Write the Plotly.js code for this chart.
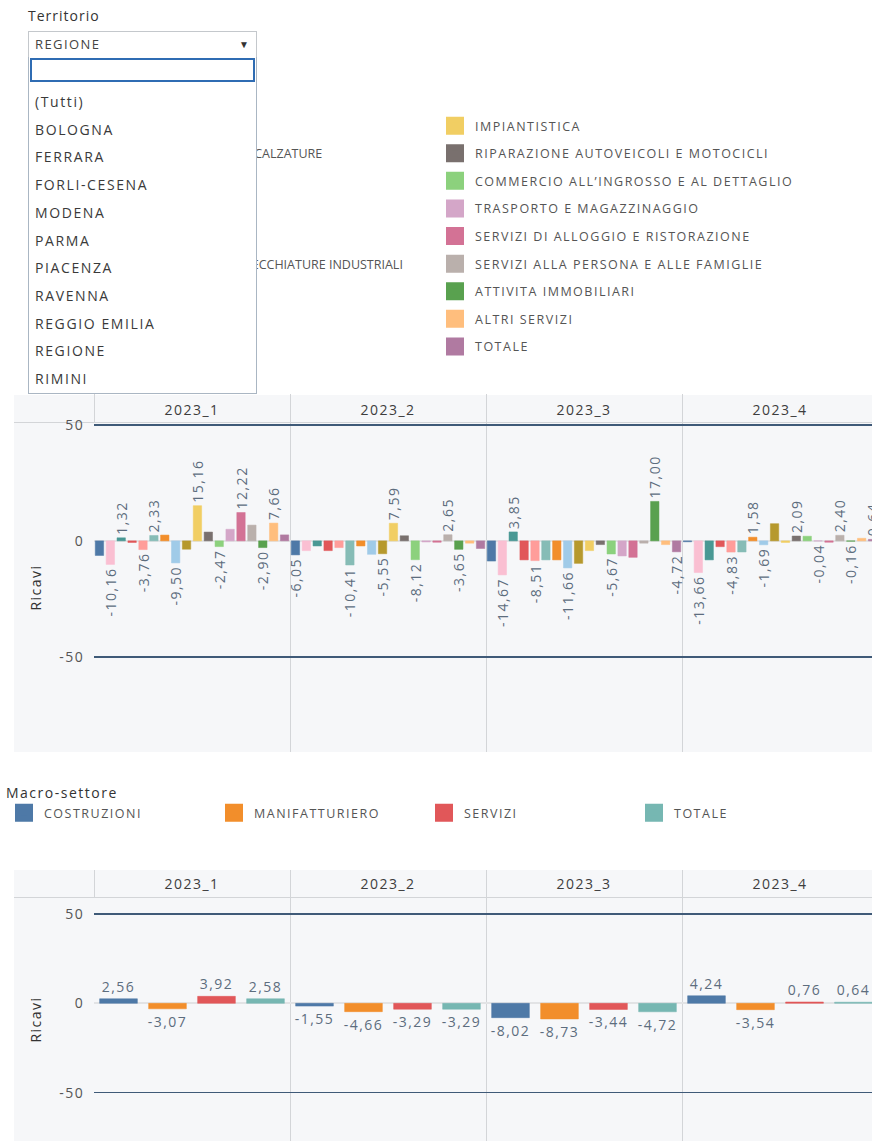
<!DOCTYPE html>
<html>
<head>
<meta charset="utf-8">
<script src="https://cdn.plot.ly/plotly-3.0.1.min.js"></script>
<style>
html,body{margin:0;padding:0;background:#fff;}
body{width:872px;height:1141px;overflow:hidden;position:relative;font-family:'Open Sans',sans-serif;}
svg text{letter-spacing:1.5px;}
svg text.legendtext{letter-spacing:0px;}
svg text.legendtitletext{letter-spacing:0.3px;}
.legendpoints path{stroke-width:6px !important;}
.sheet{position:absolute;left:14px;width:880px;background:#f6f7f9;}
.hline{position:absolute;left:14px;width:880px;height:1px;background:#d3d5d8;}
#chart{position:absolute;left:0;top:0;width:890px;height:1141px;}
#terLabel{position:absolute;left:28px;top:6px;font-size:14px;color:#333;letter-spacing:1px;z-index:10;}
#terBox{position:absolute;left:28px;top:31px;width:227px;height:25px;border:1px solid #c4c8cc;background:#fff;z-index:10;}
#terBox .val{position:absolute;left:6px;top:3px;font-size:13px;color:#444;letter-spacing:1.4px;}
#terBox .arr{position:absolute;right:7px;top:5px;font-size:10px;color:#333;}
#terList{position:absolute;left:28px;top:57px;width:227px;height:336px;border:1px solid #aab6c3;border-top:none;background:#fff;z-index:10;}
#terSearch{position:absolute;left:1px;top:1px;width:221px;height:20px;border:2px solid #2f6cb3;background:#fff;}
.item{position:absolute;left:6px;font-size:14px;color:#3a3a3a;letter-spacing:1.6px;height:27.7px;line-height:27.7px;white-space:nowrap;}
</style>
</head>
<body>
<div class="sheet" style="top:395px;height:357px;"></div>
<div class="hline" style="top:422px;"></div>
<div class="sheet" style="top:870px;height:271px;"></div>
<div class="hline" style="top:897px;"></div>
<div id="chart"></div>
<div id="terLabel">Territorio</div>
<div id="terBox"><span class="val">REGIONE</span><span class="arr">&#9660;</span></div>
<div id="terList"><div id="terSearch"></div></div>
<script>
// ---------- data ----------
const territori = ['(Tutti)','BOLOGNA','FERRARA','FORLI-CESENA','MODENA','PARMA','PIACENZA','RAVENNA','REGGIO EMILIA','REGIONE','RIMINI'];

const quarters = ['2023_1','2023_2','2023_3','2023_4'];

const sectors = [
  'ALIMENTARE',
  'TESSILE, ABBIGLIAMENTO E CALZATURE',
  'LEGNO E MOBILE',
  'CARTA E STAMPA',
  'PRODOTTI IN METALLO',
  'FABBR. MACCHINE E APPARECCHIATURE INDUSTRIALI',
  'ELETTRONICA',
  'ALTRE MANIFATTURIERE',
  'EDILIZIA',
  'IMPIANTISTICA',
  'RIPARAZIONE AUTOVEICOLI E MOTOCICLI',
  'COMMERCIO ALL\u2019INGROSSO E AL DETTAGLIO',
  'TRASPORTO E MAGAZZINAGGIO',
  'SERVIZI DI ALLOGGIO E RISTORAZIONE',
  'SERVIZI ALLA PERSONA E ALLE FAMIGLIE',
  'ATTIVITA IMMOBILIARI',
  'ALTRI SERVIZI',
  'TOTALE'
];
const sectorColors = ['#4E79A7','#FABFD2','#499894','#E15759','#FF9D9A','#86BCB6','#F28E2B','#A0CBE8','#B6992D',
                      '#F1CE63','#79706E','#8CD17D','#D4A6C8','#D37295','#BAB0AC','#59A14F','#FFBE7D','#B07AA1'];

// Ricavi per settore, un array per trimestre (stesso ordine di "sectors")
const ricaviQ1 = [-6.3, -10.16, 1.32, -0.7, -3.76, 2.33, 2.5, -9.50, -3.6, 15.16, 3.8, -2.47, 5.0, 12.22, 6.8, -2.90, 7.66, 2.58];
const ricaviQ2 = [-6.05, -4.2, -2.2, -4.2, -2.9, -10.41, -2.2, -5.8, -5.55, 7.59, 2.2, -8.12, -0.5, -0.6, 2.65, -3.65, -1.0, -3.29];
const ricaviQ3 = [-8.7, -14.67, 3.85, -8.2, -8.51, -8.2, -8.2, -11.66, -9.7, -4.2, -1.6, -5.67, -6.5, -7.1, -1.0, 17.00, -1.6, -4.72];
const ricaviQ4 = [-0.4, -13.66, -8.2, -2.5, -4.83, -4.8, 1.58, -1.69, 7.4, -0.7, 2.09, 2.0, -0.04, -0.6, 2.40, -0.16, 1.1, 0.64];

// indici dei settori con etichetta visibile, per trimestre
const labelledQ1 = [1, 2, 4, 5, 7, 9, 11, 13, 15, 16];
const labelledQ2 = [0, 5, 8, 9, 11, 14, 15];
const labelledQ3 = [1, 2, 4, 7, 11, 15, 17];
const labelledQ4 = [1, 4, 6, 7, 10, 12, 14, 15, 17];

const macroSectors = ['COSTRUZIONI','MANIFATTURIERO','SERVIZI','TOTALE'];
const macroColors = ['#4E79A7','#F28E2B','#E15759','#76B7B2'];
const macroCostruzioni = [2.56, -1.55, -8.02, 4.24];
const macroManifatturiero = [-3.07, -4.66, -8.73, -3.54];
const macroServizi = [3.92, -3.29, -3.44, 0.76];
const macroTotale = [2.58, -3.29, -4.72, 0.64];

// ---------- dropdown list ----------
const list = document.getElementById('terList');
territori.forEach((t, i) => {
  const d = document.createElement('div');
  d.className = 'item';
  d.style.top = (31 + i * 27.7) + 'px';
  d.textContent = t;
  list.appendChild(d);
});

// ---------- chart ----------
const fmt = v => v.toFixed(2).replace('.', ',');
const ricaviByQuarter = [ricaviQ1, ricaviQ2, ricaviQ3, ricaviQ4];
const labelledByQuarter = [labelledQ1, labelledQ2, labelledQ3, labelledQ4];
const macroValues = [macroCostruzioni, macroManifatturiero, macroServizi, macroTotale];

const FONT = "'Open Sans', sans-serif";
const LABEL_COLOR = '#5d6d7e';
const traces = [];

sectors.forEach((name, i) => {
  const y = ricaviByQuarter.map(q => q[i]);
  const text = ricaviByQuarter.map((q, k) => labelledByQuarter[k].includes(i) ? fmt(q[i]) : '');
  traces.push({
    type: 'bar', name: name, x: quarters, y: y,
    xaxis: 'x', yaxis: 'y',
    marker: {color: sectorColors[i], line: {color: sectorColors[i], width: 0.5}},
    text: text, textposition: 'outside', textangle: -90, constraintext: 'none',
    textfont: {size: 14, color: LABEL_COLOR, family: FONT},
    cliponaxis: false,
    legend: i < 9 ? 'legend' : 'legend2',
    legendgroup: name,
    hoverinfo: 'skip'
  });
});

macroSectors.forEach((name, i) => {
  traces.push({
    type: 'bar', name: name, x: quarters, y: macroValues[i],
    xaxis: 'x2', yaxis: 'y2',
    marker: {color: macroColors[i], line: {color: macroColors[i], width: 0.5}},
    text: macroValues[i].map(fmt), textposition: 'outside', textangle: 0, constraintext: 'none',
    textfont: {size: 14, color: LABEL_COLOR, family: FONT},
    cliponaxis: false,
    legend: 'legend3',
    hoverinfo: 'skip'
  });
});

const H = 1141, PW = 878, PLOT_LEFT = 94;
const py = p => 1 - p / H;     // page px -> paper y
const px = p => p / PW;        // page px -> paper x

const xCommon = {
  type: 'category', side: 'top', range: [-0.5, 3.5], domain: [px(PLOT_LEFT), 1],
  tickson: 'boundaries', ticks: 'outside', tickcolor: '#d3d5d8', tickwidth: 1,
  showgrid: true, gridcolor: '#d3d5d8', gridwidth: 1,
  showline: false, zeroline: false, fixedrange: true,
  tickfont: {size: 14, color: '#3d3d3d', family: FONT}
};
const yCommon = {
  tickvals: [-50, 0, 50], ticktext: ['-50', '0', '50'],
  showgrid: true, gridcolor: '#3f5a78', gridwidth: 1.5,
  zeroline: true, zerolinecolor: '#e2e3e5', zerolinewidth: 2,
  ticks: 'outside', ticklen: 6, tickcolor: 'rgba(0,0,0,0)',
  showline: false, fixedrange: true,
  tickfont: {size: 14, color: '#555', family: FONT},
  title: {text: 'Ricavi', font: {size: 14, color: '#333', family: FONT}, standoff: 14}
};

const legendCommon = {
  xanchor: 'left', yanchor: 'top', orientation: 'v',
  bgcolor: 'rgba(0,0,0,0)', borderwidth: 0,
  font: {size: 12.5, color: '#555', family: FONT},
  tracegroupgap: 8.35, itemclick: false, itemdoubleclick: false
};

const layout = {
  width: 890, height: H, autosize: false,
  margin: {l: 0, r: 890 - PW, t: 0, b: 0, pad: 0},
  paper_bgcolor: 'rgba(0,0,0,0)', plot_bgcolor: 'rgba(0,0,0,0)',
  font: {family: FONT, size: 14, color: '#555'},
  separators: ',.',
  barmode: 'group', bargap: 0, bargroupgap: 0.23,
  showlegend: true,
  xaxis: Object.assign({}, xCommon, {anchor: 'y', ticklen: 28, ticklabelstandoff: 4}),
  yaxis: Object.assign({}, yCommon, {anchor: 'x', domain: [py(752), py(423)], range: [-91, 50.8]}),
  xaxis2: Object.assign({}, xCommon, {anchor: 'y2', ticklen: 27, ticklabelstandoff: 5}),
  yaxis2: Object.assign({}, yCommon, {anchor: 'x2', domain: [0, py(898)], range: [-77.1, 59]}),
  legend: Object.assign({}, legendCommon, {x: px(51), y: py(111)}),
  legend2: Object.assign({}, legendCommon, {x: px(435), y: py(111)}),
  legend3: Object.assign({}, legendCommon, {
    orientation: 'h', x: px(4), y: py(780),
    entrywidth: 165, entrywidthmode: 'pixels',
    title: {text: 'Macro-settore', side: 'top', font: {size: 14, color: '#333', family: FONT}}
  })
};

Plotly.newPlot('chart', traces, layout, {displayModeBar: false, staticPlot: true, responsive: false});
</script>
</body>
</html>
